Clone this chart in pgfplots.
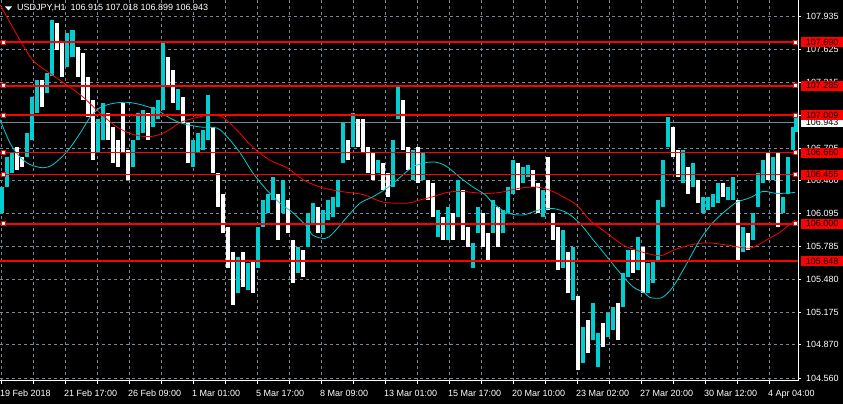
\documentclass[border=0pt]{standalone}
\usepackage{fontspec}
\setmainfont{Liberation Sans}
\usepackage{pgfplots}
\usepackage{pgfplotstable}
\pgfplotsset{compat=1.18}

\definecolor{bullc}{RGB}{0,206,209}
\definecolor{gridc}{RGB}{119,136,153}

% hourly bars, x = bar position, lo/hi = price
\pgfplotstableread{
x lo hi
2.5 106.10 106.34
7.5 106.34 106.62
12.5 106.47 106.66
27.5 106.62 106.84
32.5 106.78 107.18
37.5 107.03 107.34
47.5 107.22 107.40
52.5 107.38 107.90
67.5 107.46 107.78
72.5 107.55 107.80
97.5 106.66 106.97
102.5 106.78 107.12
132.5 106.53 106.78
137.5 106.78 107.03
142.5 106.84 107.06
152.5 106.90 107.09
157.5 106.97 107.15
162.5 107.06 107.68
177.5 107.06 107.25
192.5 106.53 106.78
197.5 106.66 106.84
202.5 106.69 106.87
207.5 106.78 107.20
237.5 105.35 105.69
247.5 105.38 105.63
257.5 105.59 105.97
262.5 105.97 106.22
267.5 106.10 106.28
272.5 106.22 106.43
282.5 106.10 106.41
297.5 105.54 105.78
307.5 105.78 106.10
312.5 106.00 106.19
322.5 105.91 106.13
327.5 106.03 106.22
332.5 106.06 106.25
337.5 106.15 106.41
342.5 106.56 106.94
352.5 106.71 107.03
377.5 106.47 106.59
392.5 106.34 106.78
397.5 106.97 107.27
412.5 106.41 106.69
422.5 106.41 106.66
437.5 105.87 106.13
447.5 105.85 106.15
457.5 106.06 106.41
472.5 105.59 105.82
477.5 105.91 106.15
492.5 105.91 106.22
502.5 105.91 106.13
507.5 106.10 106.34
512.5 106.28 106.59
522.5 106.38 106.53
527.5 106.43 106.55
542.5 106.06 106.31
562.5 105.59 105.94
572.5 105.29 105.78
582.5 104.70 105.04
592.5 104.91 105.26
597.5 104.66 104.98
607.5 104.94 105.17
612.5 105.01 105.22
622.5 105.22 105.54
627.5 105.50 105.75
637.5 105.57 105.87
647.5 105.35 105.63
652.5 105.45 105.66
657.5 105.66 106.22
662.5 106.15 106.59
667.5 106.71 106.99
682.5 106.38 106.69
692.5 106.34 106.56
702.5 106.10 106.25
707.5 106.13 106.25
712.5 106.15 106.28
717.5 106.19 106.38
727.5 106.22 106.34
732.5 106.22 106.43
742.5 105.73 105.97
752.5 105.85 106.10
757.5 106.15 106.47
762.5 106.38 106.59
772.5 106.41 106.62
782.5 106.10 106.25
787.5 106.28 106.62
792.5 106.69 106.90
796.0 106.85 107.02
}\upbars

\pgfplotstableread{
x lo hi
17.5 106.50 106.71
22.5 106.53 106.62
42.5 107.09 107.34
57.5 107.62 107.87
62.5 107.37 107.68
77.5 107.37 107.65
82.5 107.15 107.59
87.5 106.99 107.37
92.5 106.59 107.15
107.5 106.78 107.03
112.5 106.56 106.90
117.5 106.53 106.78
122.5 106.66 107.12
127.5 106.41 106.69
147.5 106.78 107.03
167.5 107.27 107.55
172.5 107.12 107.43
182.5 106.94 107.18
187.5 106.56 106.94
212.5 106.47 106.90
217.5 106.15 106.47
222.5 105.91 106.28
227.5 105.59 105.97
232.5 105.24 105.73
242.5 105.41 105.73
252.5 105.35 105.66
277.5 105.85 106.28
287.5 105.91 106.22
292.5 105.45 105.85
302.5 105.50 105.75
317.5 105.91 106.15
347.5 106.59 106.78
357.5 106.71 106.97
362.5 106.66 106.97
367.5 106.47 106.71
372.5 106.41 106.66
382.5 106.31 106.56
387.5 106.25 106.47
402.5 106.69 107.15
407.5 106.50 106.71
417.5 106.38 106.71
427.5 106.22 106.41
432.5 106.06 106.38
442.5 105.85 106.06
452.5 105.85 106.10
462.5 105.85 106.31
467.5 105.78 105.97
482.5 105.78 106.10
487.5 105.66 105.91
497.5 105.78 106.15
517.5 106.31 106.56
532.5 106.34 106.50
537.5 106.10 106.38
547.5 106.13 106.62
552.5 105.85 106.10
557.5 105.57 105.97
567.5 105.35 105.73
577.5 104.63 105.32
587.5 104.79 105.10
602.5 104.85 105.07
617.5 104.91 105.26
632.5 105.54 105.75
642.5 105.35 105.78
672.5 106.62 106.90
677.5 106.43 106.69
687.5 106.28 106.53
697.5 106.19 106.41
722.5 106.25 106.38
737.5 105.66 106.22
747.5 105.75 105.91
767.5 106.41 106.66
777.5 105.97 106.66
}\downbars

\pgfplotsset{
  hline/.style={color=red, solid, line width=2pt, mark=square*, mark indices={2,3},
    mark options={fill=white, draw=red, line width=0.6pt, solid}, mark size=2pt},
}

\begin{document}
\begin{tikzpicture}[font=\fontsize{9}{10}\selectfont]
\fill[black] (0,0) rectangle (843pt,404pt);
\begin{axis}[
  at={(0pt,23pt)}, anchor=south west,
  width=798pt, height=381pt, scale only axis,
  xmin=0, xmax=798, ymin=104.532, ymax=108.084,
  axis line style={draw=none},
  xtick={1,33,...,769},
  xticklabels={19 Feb 2018,,21 Feb 17:00,,26 Feb 09:00,,1 Mar 01:00,,5 Mar 17:00,,8 Mar 09:00,,13 Mar 01:00,,15 Mar 17:00,,20 Mar 10:00,,23 Mar 02:00,,27 Mar 20:00,,30 Mar 12:00,,4 Apr 04:00},
  ytick={104.560,104.870,105.175,105.480,105.785,106.095,106.400,106.705,107.010,107.315,107.625,107.935},
  yticklabels={104.560,104.870,105.175,105.480,105.785,106.095,106.400,106.705,107.010,107.315,107.625,107.935},
  xtick pos=bottom, ytick pos=right, yticklabel pos=right,
  tick align=outside, major tick length=3pt,
  tick style={white, line width=0.8pt},
  xmajorgrids, ymajorgrids,
  major grid style={gridc, dash pattern=on 3pt off 3pt, line width=0.8pt},
  tick label style={font=\fontsize{9}{10}\selectfont, text=white},
  xticklabel style={anchor=north west, inner sep=0pt, xshift=-1pt, yshift=-6pt},
  yticklabel style={anchor=west, inner sep=0pt, xshift=5pt},
]
% current price
\addplot[gridc, solid, line width=0.8pt] coordinates {(0,106.943)(798,106.943)};

\addplot[draw=none, mark=none, error bars/.cd, y dir=plus, y explicit, error mark=none,
  error bar style={draw=white, line width=4pt, solid}]
  table[x=x, y=lo, y error plus expr=\thisrow{hi}-\thisrow{lo}] {\downbars};
\addplot[draw=none, mark=none, error bars/.cd, y dir=plus, y explicit, error mark=none,
  error bar style={draw=bullc, line width=4pt, solid}]
  table[x=x, y=lo, y error plus expr=\thisrow{hi}-\thisrow{lo}] {\upbars};

% slow moving average
\addplot[red, solid, line width=0.8pt, smooth] coordinates {
(0,108.04)(20,107.71)(33,107.52)(50,107.40)(67,107.29)(83,107.18)(100,107.03)(117,106.90)
(133,106.83)(150,106.81)(165,106.85)(180,106.94)(193,106.98)(210,107.01)(223,106.99)(237,106.87)
(253,106.71)(270,106.59)(287,106.52)(303,106.41)(320,106.34)(340,106.30)(363,106.27)(383,106.20)
(407,106.19)(420,106.22)(433,106.25)(447,106.29)(460,106.30)(473,106.29)(485,106.28)(500,106.29)
(520,106.33)(537,106.34)(550,106.31)(563,106.25)(577,106.17)(590,106.03)(607,105.91)(623,105.80)
(640,105.74)(660,105.70)(673,105.75)(690,105.80)(707,105.82)(727,105.80)(750,105.77)(767,105.85)
(780,105.92)(795,106.03)};
% fast moving average
\addplot[bullc, solid, line width=0.8pt, smooth] coordinates {
(0,106.97)(10,106.75)(20,106.62)(30,106.55)(43,106.52)(53,106.55)(67,106.67)(80,106.84)
(90,106.99)(100,107.08)(113,107.12)(127,107.13)(140,107.11)(157,107.06)(165,107.01)(180,106.94)
(200,106.90)(217,106.89)(227,106.81)(240,106.66)(253,106.47)(267,106.31)(280,106.19)(293,106.10)
(307,105.97)(313,105.89)(325,105.86)(333,105.91)(347,106.06)(360,106.19)(373,106.25)(387,106.33)
(400,106.43)(413,106.53)(427,106.57)(437,106.57)(447,106.53)(460,106.43)(473,106.34)(485,106.27)
(493,106.19)(507,106.10)(523,106.08)(540,106.13)(553,106.14)(567,106.10)(580,106.00)(593,105.85)
(607,105.69)(620,105.54)(633,105.41)(645,105.35)(650,105.31)(662,105.31)(673,105.41)(687,105.63)
(700,105.85)(713,106.01)(727,106.13)(737,106.20)(750,106.24)(763,106.30)(777,106.28)(795,106.29)};

% horizontal levels
\addplot[hline] coordinates {(0,107.690)(3,107.690)(795.5,107.690)(798,107.690)};
\addplot[hline] coordinates {(0,107.285)(3,107.285)(795.5,107.285)(798,107.285)};
\addplot[hline] coordinates {(0,107.009)(3,107.009)(795.5,107.009)(798,107.009)};
\addplot[hline, line width=1.3pt] coordinates {(0,106.660)(3,106.660)(795.5,106.660)(798,106.660)};
\addplot[hline, line width=1.3pt] coordinates {(0,106.455)(3,106.455)(795.5,106.455)(798,106.455)};
\addplot[hline] coordinates {(0,106.000)(3,106.000)(795.5,106.000)(798,106.000)};
\addplot[color=red, solid, line width=2pt] coordinates {(0,105.648)(798,105.648)};

\coordinate (c0) at (axis cs:798,106.943);
\coordinate (c1) at (axis cs:798,107.690);
\coordinate (c2) at (axis cs:798,107.285);
\coordinate (c3) at (axis cs:798,107.009);
\coordinate (c4) at (axis cs:798,106.660);
\coordinate (c5) at (axis cs:798,106.455);
\coordinate (c6) at (axis cs:798,106.000);
\coordinate (c7) at (axis cs:798,105.648);
\end{axis}
\draw[white, line width=1pt] (0,23pt) -- (798.5pt,23pt) -- (798.5pt,404pt);
\node[fill=white, text=black, minimum width=42pt, minimum height=10pt, inner sep=0pt, anchor=west]
  at ([xshift=3pt]c0) {106.943};
\foreach \c/\t in {c1/107.690, c2/107.285, c3/107.009, c4/106.660, c5/106.455, c6/106.000, c7/105.648}
  \node[fill=red, text=black, minimum width=42pt, minimum height=10pt, inner sep=0pt, anchor=west]
    at ([xshift=3pt]\c) {\t};
\fill[white] (5pt,397.5pt) -- (12pt,397.5pt) -- (8.5pt,393.5pt) -- cycle;
\node[text=white, anchor=base west, inner sep=0pt] at (17pt,393pt)
  {USDJPY,H1\ \ 106.915 107.018 106.899 106.943};
\pgfresetboundingbox
\path (0,0) rectangle (843pt,404pt);
\end{tikzpicture}
\end{document}
